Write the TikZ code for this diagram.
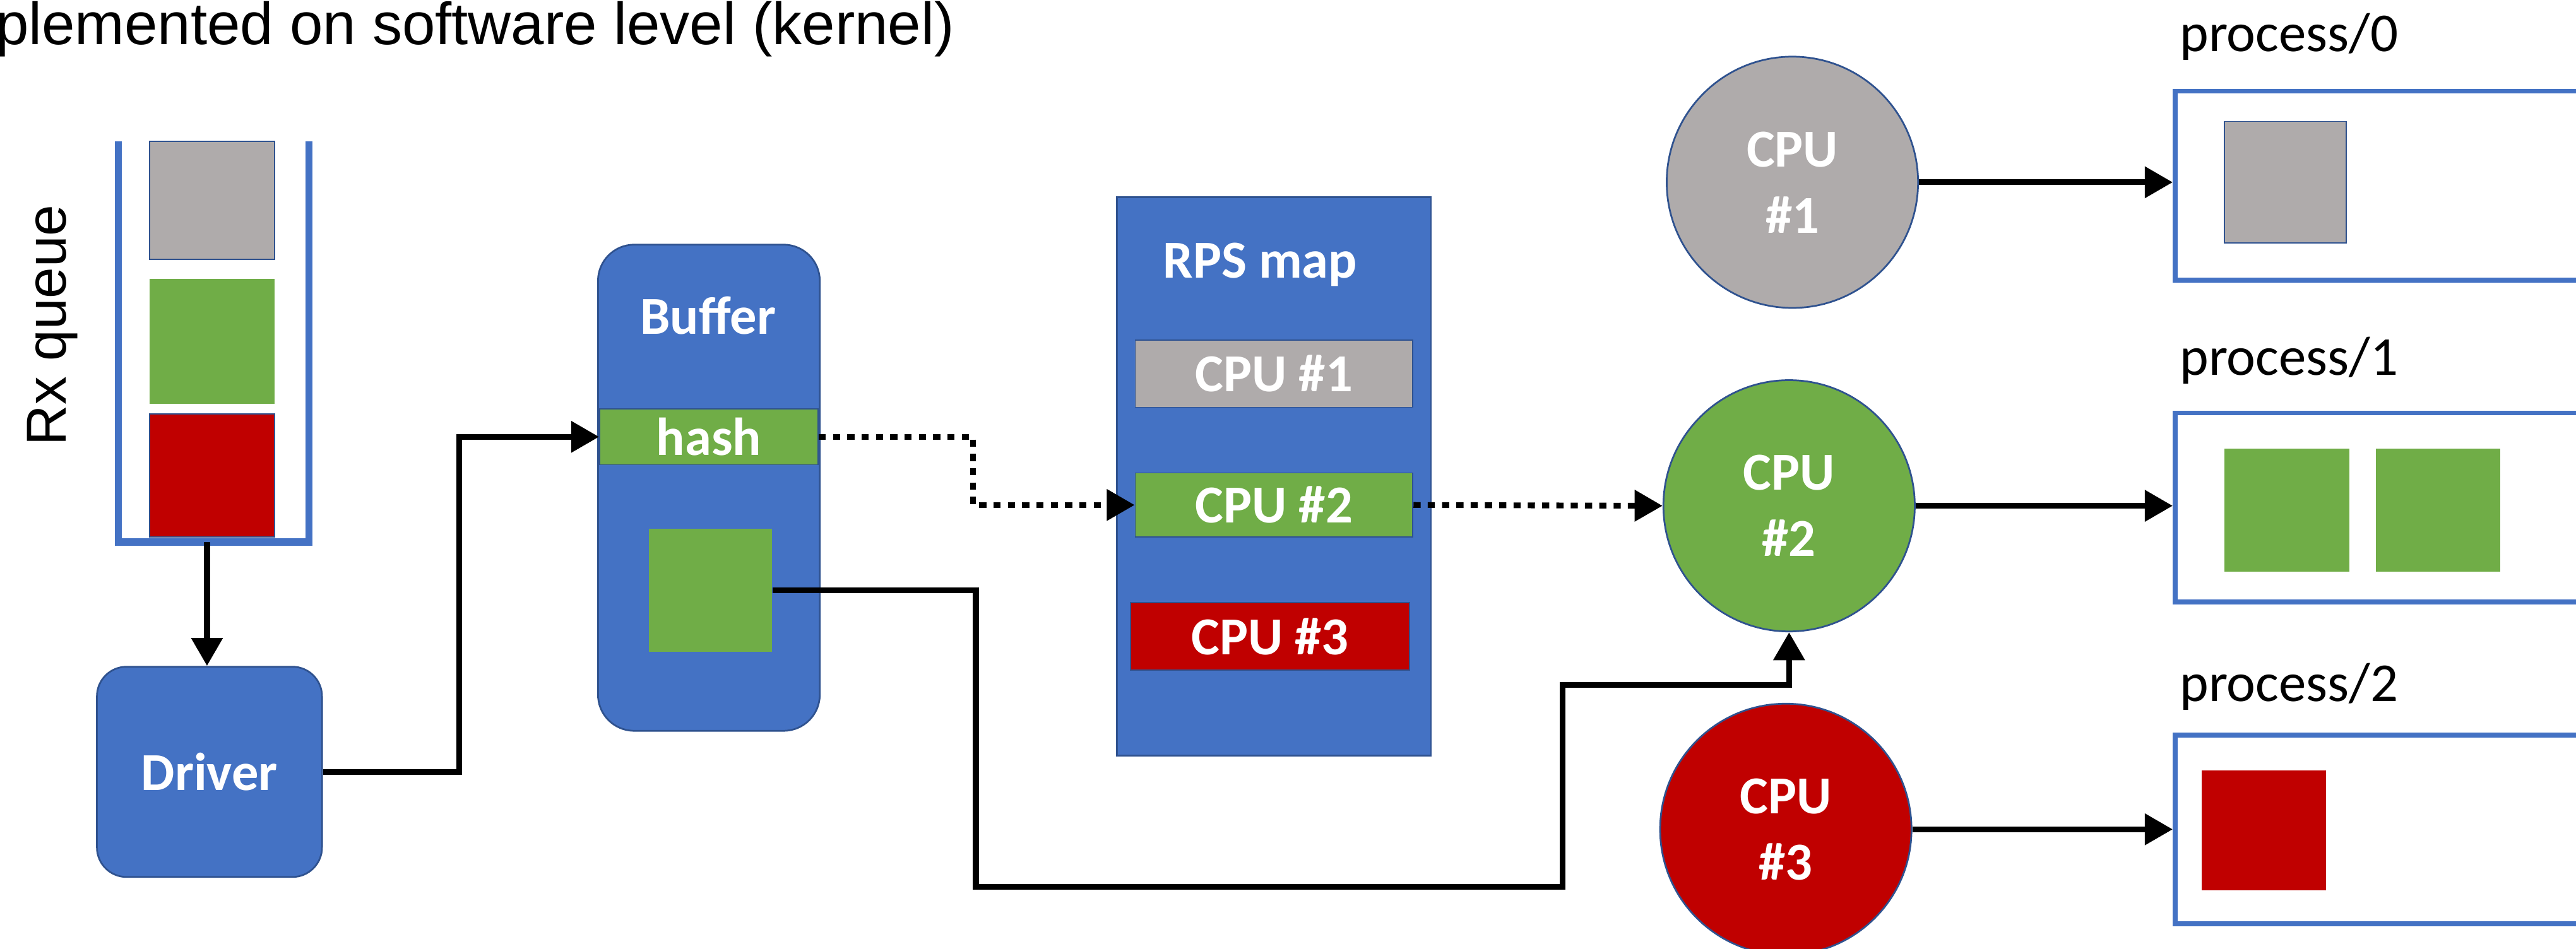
\documentclass[tikz,border=0pt]{standalone}
\usepackage{fontspec}
\setmainfont{Carlito}
\newfontfamily\sansfont{Liberation Sans}
\usetikzlibrary{arrows.meta,positioning,calc}

\definecolor{rpsblue}{HTML}{4472C4}
\definecolor{rpsedge}{HTML}{2F528F}
\definecolor{pktgray}{HTML}{AFABAB}
\definecolor{pktgreen}{HTML}{70AD47}
\definecolor{pktred}{HTML}{C00000}

\tikzset{
    >={Triangle[length=0.34cm,width=0.37cm]},
    flow/.style={->,line width=2pt},
    dotflow/.style={->,line width=2pt,dash pattern=on 0.087cm off 0.087cm},
    lbl/.style={font=\bfseries\fontsize{18.5}{23}\selectfont,text=white},
    unit/.style={rectangle,draw=rpsedge,fill=rpsblue,line width=0.6pt,inner sep=0pt},
    pkt/.style={rectangle,inner sep=0pt,fill=#1},
    cpu/.style={circle,draw=rpsedge,line width=0.6pt,fill=#1,minimum size=3.06cm,inner sep=0pt,align=center,lbl},
    proc/.style={rectangle,draw=rpsblue,line width=1.7pt,minimum width=5.32cm,minimum height=2.3cm,inner sep=0pt},
    plabel/.style={anchor=base west,inner sep=0pt,font=\fontsize{19}{23}\selectfont}
}

\begin{document}
\begin{tikzpicture}
    \useasboundingbox (0,0) rectangle (31.36,11.55);
    \node[anchor=base west,inner sep=0pt,font=\sansfont\fontsize{20.6}{24}\selectfont] (title) at (-0.06,11.01) {plemented on software level (kernel)};

    % receive queue with three packets
    \node[rotate=90,font=\sansfont\fontsize{19.5}{23}\selectfont] (rxname) at (0.64,7.59) {Rx queue};
    \draw[rpsblue,line width=0.088cm] (1.44,9.83) -- (1.44,4.95) -- (3.76,4.95) -- (3.76,9.83);
    \coordinate (qbot) at (2.52,4.95);
    \node[pkt=pktgray,draw=rpsedge,minimum width=1.52cm,minimum height=1.44cm] (q1) at (2.58,9.11) {};
    \node[pkt=pktgreen,minimum width=1.52cm,minimum height=1.52cm] (q2) at (2.58,7.39) {};
    \node[pkt=pktred,draw=rpsedge,minimum width=1.52cm,minimum height=1.50cm] (q3) at (2.58,5.76) {};

    \node[unit,rounded corners=0.36cm,minimum width=2.74cm,minimum height=2.56cm,lbl] (drv) at (2.55,2.15) {Driver};

    % buffer
    \node[unit,rounded corners=0.44cm,minimum width=2.70cm,minimum height=5.92cm] (buf) at (8.63,5.61) {};
    \node[lbl] (bufname) at (8.62,7.71) {Buffer};
    \node[pkt=pktgreen,draw=rpsedge,minimum width=2.66cm,minimum height=0.68cm,lbl] (hash) at (8.63,6.23) {hash};
    \node[pkt=pktgreen,minimum size=1.5cm] (bpkt) at (8.65,4.36) {};

    % RPS map
    \node[unit,minimum width=3.82cm,minimum height=6.80cm] (map) at (15.51,5.75) {};
    \node[lbl] (mapname) at (15.34,8.33) {RPS map};
    \node[pkt=pktgray,draw=rpsedge,minimum width=3.38cm,minimum height=0.82cm,lbl] (map1) at (15.51,7.00) {CPU \#1};
    \node[pkt=pktgreen,draw=rpsedge,minimum width=3.38cm,minimum height=0.78cm,lbl] (map2) at (15.51,5.40) {CPU \#2};
    \node[pkt=pktred,draw=rpsedge,minimum width=3.40cm,minimum height=0.82cm,lbl] (map3) at (15.46,3.80) {CPU \#3};

    % CPUs
    \node[cpu=pktgray] (cpu1) at (21.82,9.33) {CPU\\\#1};
    \node[cpu=pktgreen] (cpu2) at (21.78,5.39) {CPU\\\#2};
    \node[cpu=pktred] (cpu3) at (21.74,1.45) {CPU\\\#3};

    % processes
    \node[proc] (proc0) at (29.14,9.29) {};
    \node[proc] (proc1) at (29.14,5.37) {};
    \node[proc] (proc2) at (29.14,1.45) {};
    \node[plabel] (p0name) at (26.53,10.92) {process/0};
    \node[plabel] (p1name) at (26.53,6.98) {process/1};
    \node[plabel] (p2name) at (26.53,3.01) {process/2};
    \node[pkt=pktgray,draw=rpsedge,minimum size=1.48cm] (g0) at (27.82,9.33) {};
    \node[pkt=pktgreen,minimum width=1.52cm,minimum height=1.50cm] (g1) at (27.84,5.34) {};
    \node[pkt=pktgreen,minimum width=1.52cm,minimum height=1.50cm] (g2) at (29.68,5.34) {};
    \node[pkt=pktred,minimum width=1.52cm,minimum height=1.46cm] (r0) at (27.56,1.44) {};

    % connectors
    \draw[flow] (qbot) -- (qbot |- drv.north);
    \draw[flow] (drv.east) -- ++(1.66,0) |- (hash.west);
    \draw[dotflow] (hash.east) -- ++(1.88,0) |- (map2.west);
    \draw[dotflow] (map2.east) -- (cpu2.west);
    \draw[flow] (bpkt.east) -| (11.88,0.75) -| (19.02,3.21) -| (cpu2.south);
    \foreach \c/\p in {cpu1/proc0,cpu2/proc1,cpu3/proc2}
        \draw[flow] (\c.east) -- (\c.east -| \p.west);
\end{tikzpicture}
\end{document}
